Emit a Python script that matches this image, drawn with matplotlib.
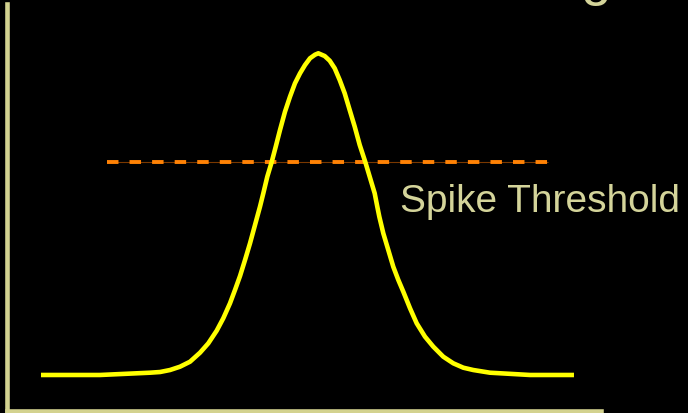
"""
Membrane potential bump crossing the spike threshold.
"""

import matplotlib
matplotlib.use('Agg')  # Non-interactive backend
import matplotlib.pyplot as plt

# Potential trace (arbitrary units, 0-100 on both axes)
time = [5.72, 15.66, 24.07, 25.76, 27.44, 29.12, 30.81, 32.49, 33.89, 35.30,
        36.41, 37.54, 38.38, 39.23, 40.07, 40.91, 41.75, 42.59, 43.15, 43.82,
        44.56, 45.24, 45.96, 46.80, 47.64, 48.48, 49.33, 50.17, 51.01, 51.85,
        52.41, 53.48, 54.33, 55.17, 56.01, 56.85, 57.69, 58.54, 59.38, 60.32,
        61.06, 61.90, 62.34, 62.68, 63.35, 64.19, 65.03, 65.88, 66.72, 67.85,
        68.97, 70.37, 71.77, 73.45, 75.13, 76.82, 78.50, 81.31, 88.05, 95.45]
potential = [8.85, 8.85, 9.41, 9.58, 10.07, 10.88, 12.11, 14.32, 16.63, 19.73,
             22.78, 26.46, 29.73, 33.17, 37.10, 41.20, 45.70, 50.20, 53.49, 57.57,
             61.18, 64.94, 69.04, 73.54, 77.22, 80.52, 82.97, 85.01, 86.66, 87.54,
             87.89, 87.22, 86.07, 84.20, 81.33, 78.06, 73.96, 69.85, 65.36, 61.18,
             57.57, 53.49, 50.20, 47.74, 43.66, 39.56, 35.45, 32.19, 29.31, 25.23,
             21.55, 18.26, 15.80, 13.34, 11.72, 10.64, 10.07, 9.41, 8.85, 8.85]

threshold_level = 61.2
threshold_span = [16.8, 91.1]
threshold_label = 'Spike Threshold'

AXIS_COLOR = '#d3d28f'
TEXT_COLOR = '#d4d49a'

fig = plt.figure(figsize=(6.88, 4.13), dpi=100, facecolor='black')
ax = fig.add_axes([7 / 688, 2 / 413, 594 / 688, 407 / 413])
ax.set_facecolor('black')
ax.set_xlim(0, 100)
ax.set_ylim(0, 100)

# Only left and bottom axis lines, no ticks
for side in ('top', 'right'):
    ax.spines[side].set_visible(False)
for side in ('left', 'bottom'):
    ax.spines[side].set_color(AXIS_COLOR)
    ax.spines[side].set_linewidth(3.3)
ax.set_xticks([])
ax.set_yticks([])

# Threshold: thin dark guide under an orange dashed line
ax.plot(threshold_span, [threshold_level] * 2, color='#7a3800', lw=0.8,
        solid_capstyle='butt', zorder=2)
ax.plot(threshold_span, [threshold_level] * 2, color='#ff8205', lw=2.8,
        dashes=(2.95, 2.85), dash_capstyle='butt', zorder=3)

# Potential curve
ax.plot(time, potential, color='#ffff00', lw=3.3, solid_joinstyle='round',
        solid_capstyle='butt', zorder=4)

ax.text(66.2, 49.0, threshold_label, color=TEXT_COLOR, fontsize=28,
        family='Liberation Sans', ha='left', va='baseline', clip_on=False)

# Tail of the heading letter peeking in at the top edge
fig.text(581 / 688, 1 + 6.5 / 413, 'g', color=TEXT_COLOR, fontsize=40,
         family='Liberation Sans', ha='left', va='baseline')

plt.savefig('out.png', dpi=100, facecolor='black')
plt.close()
